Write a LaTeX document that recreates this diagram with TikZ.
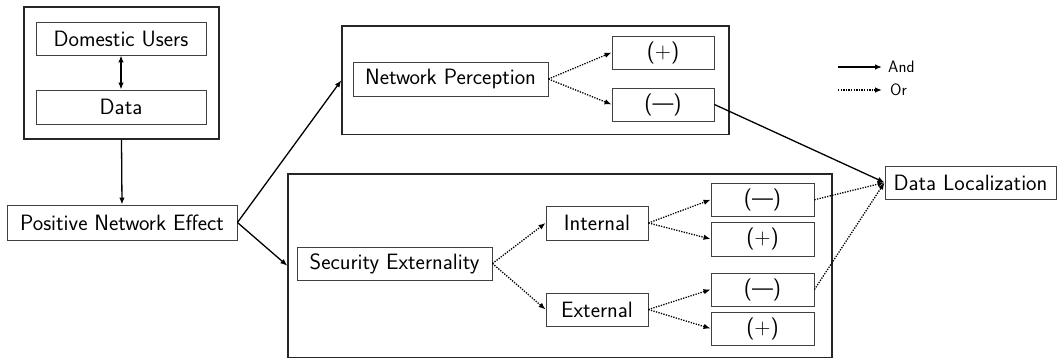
\documentclass[tikz,border=0pt]{standalone}
\usetikzlibrary{arrows.meta}
\begin{document}
\begin{tikzpicture}[x=1pt,y=-1pt,
  font=\sffamily\fontsize{22.2}{26}\selectfont,
  box/.style={draw=black!75, line width=0.9pt, inner sep=0pt, align=center},
  grp/.style={draw=black!85, line width=1.3pt, inner sep=0pt},
  andarr/.style={line width=1.3pt, -{Latex[length=7pt,width=5.5pt]}},
  orarr/.style={line width=1.3pt, dash pattern=on 1.3pt off 1.3pt, -{Latex[length=7pt,width=5.5pt]}},
  legtext/.style={font=\sffamily\fontsize{16.5}{19}\selectfont, anchor=west, inner sep=0pt}]
\useasboundingbox (0,0) rectangle (1058,359);
% left group
\node[grp, minimum width=195pt, minimum height=132pt] (g1) at (121.5,73) {};
\node[box, minimum width=170pt, minimum height=33pt] (du) at (121,38.5) {Domestic Users};
\node[box, minimum width=170pt, minimum height=34pt] (data) at (121,107) {Data};
\node[box, minimum width=230pt, minimum height=35pt] (pne) at (122,222.5) {Positive Network Effect};
% network perception group
\node[grp, minimum width=387pt, minimum height=108.5pt] (g2) at (535.5,80.25) {};
\node[box, minimum width=195pt, minimum height=34pt] (np) at (450.5,79) {Network Perception};
\node[box, minimum width=102pt, minimum height=33pt] (npp) at (663,52.5) {(+)};
\node[box, minimum width=102pt, minimum height=33pt] (npm) at (663,104.5) {(---)};
% security group
\node[grp, minimum width=544pt, minimum height=183.5pt] (g3) at (560,265.75) {};
\node[box, minimum width=195pt, minimum height=33pt] (se) at (394.5,263.5) {Security Externality};
\node[box, minimum width=102pt, minimum height=34pt] (int) at (597,223) {Internal};
\node[box, minimum width=102pt, minimum height=33pt] (ext) at (597,309.5) {External};
\node[box, minimum width=103pt, minimum height=33.5pt] (im) at (762.5,199.75) {(---)};
\node[box, minimum width=103pt, minimum height=34pt] (ip) at (762.5,239) {(+)};
\node[box, minimum width=103pt, minimum height=33pt] (em) at (762.5,289.5) {(---)};
\node[box, minimum width=103pt, minimum height=33pt] (ep) at (762.5,328.5) {(+)};
% data localization
\node[box, minimum width=171pt, minimum height=33pt] (dl) at (970.5,182.5) {Data Localization};
% connectors
\draw[line width=1.3pt, {Latex[length=7pt,width=5.5pt]}-{Latex[length=7pt,width=5.5pt]}] (du.south) -- (data.north);
\draw[andarr] (g1.south) -- (pne.north);
\draw[andarr] (pne.east) -- (g2.west);
\draw[andarr] (pne.east) -- (g3.west);
\draw[orarr] (np.east) -- (npp.west);
\draw[orarr] (np.east) -- (npm.west);
\draw[orarr] (se.east) -- (int.west);
\draw[orarr] (se.east) -- (ext.west);
\draw[orarr] (int.east) -- (im.west);
\draw[orarr] (int.east) -- (ip.west);
\draw[orarr] (ext.east) -- (em.west);
\draw[orarr] (ext.east) -- (ep.west);
\draw[orarr] (im.east) -- (dl.west);
\draw[orarr] (em.east) -- (dl.west);
\draw[andarr] (npm.east) -- (dl.west);
% legend
\coordinate (la1) at (838,67);
\coordinate (lb1) at (882,67);
\coordinate (la2) at (838,90);
\coordinate (lb2) at (882,90);
\draw[andarr] (la1) -- (lb1);
\draw[orarr] (la2) -- (lb2);
\node[legtext] (land) at (888,67) {And};
\node[legtext] (lor) at (890,90) {Or};
\end{tikzpicture}
\end{document}
